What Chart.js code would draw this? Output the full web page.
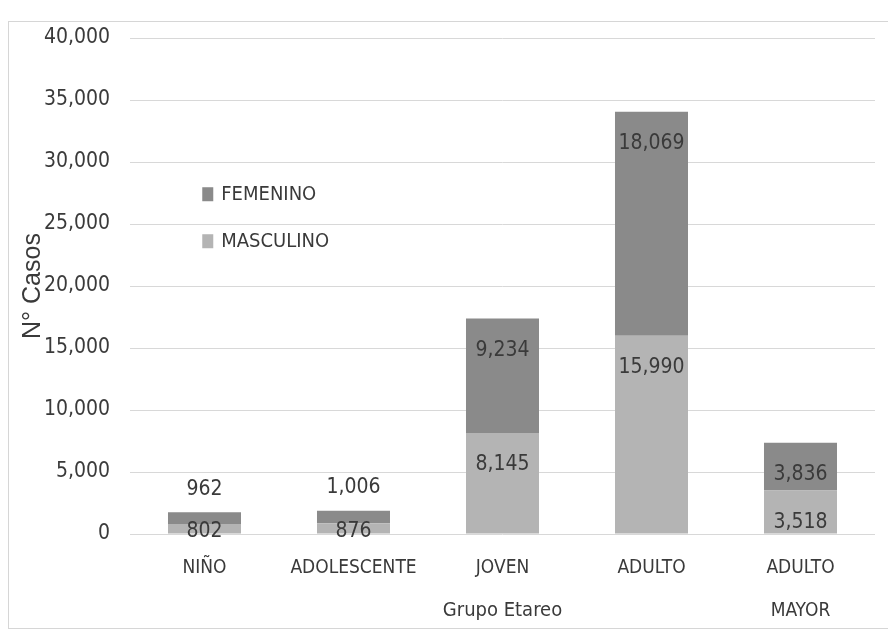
<!DOCTYPE html>
<html>
<head>
<meta charset="utf-8">
<script src="https://cdn.jsdelivr.net/npm/chart.js@4.4.1/dist/chart.umd.min.js"></script>
<style>
  html, body { margin: 0; padding: 0; background: #fff; }
  #wrap { width: 888px; height: 633px; }
</style>
</head>
<body>
<div id="wrap"><canvas id="chart"></canvas></div>
<script>
  var categories = [['NIÑO'], ['ADOLESCENTE'], ['JOVEN'], ['ADULTO'], ['ADULTO', 'MAYOR']];
  var masculino = [802, 876, 8145, 15990, 3518];
  var femenino = [962, 1006, 9234, 18069, 3836];
  var yMin = 0;
  var yMax = 40000;
  var yStep = 5000;

  var narrow = '"Liberation Sans Narrow", "DejaVu Sans Condensed", sans-serif';
  var textColor = '#3a3a3a';

  var fmt = function (v) {
    return v.toLocaleString('en-US');
  };

  // frame around the whole chart, like the pasted Excel object
  var framePlugin = {
    id: 'frame',
    beforeDraw: function (chart) {
      var ctx = chart.ctx;
      ctx.save();
      ctx.fillStyle = '#fff';
      ctx.fillRect(0, 0, chart.width, chart.height);
      ctx.strokeStyle = '#d6d6d6';
      ctx.lineWidth = 1;
      ctx.strokeRect(8.5, 21.5, chart.width, chart.height - 26);
      ctx.restore();
    }
  };

  // value labels on each stacked segment
  var labelPlugin = {
    id: 'segmentLabels',
    afterDatasetsDraw: function (chart) {
      var ctx = chart.ctx;
      ctx.save();
      ctx.font = '21px ' + narrow;
      ctx.fillStyle = textColor;
      ctx.textAlign = 'center';
      ctx.textBaseline = 'middle';
      chart.data.datasets.forEach(function (ds, i) {
        var meta = chart.getDatasetMeta(i);
        meta.data.forEach(function (bar, j) {
          var top = Math.min(bar.y, bar.base);
          var bottom = Math.max(bar.y, bar.base);
          var y;
          if (bottom - top >= 40) {
            y = top + 32;
          } else if (ds.isTop) {
            y = top - 23;
          } else {
            y = bottom - 2;
          }
          ctx.fillText(fmt(ds.data[j]), bar.x, y);
        });
      });
      ctx.restore();
    }
  };

  // legend inside the plot area, top series first
  var legendPlugin = {
    id: 'innerLegend',
    afterDraw: function (chart) {
      var ctx = chart.ctx;
      var area = chart.chartArea;
      var x = area.left + (area.right - area.left) * 0.097;
      var y = area.top + (area.bottom - area.top) * 0.315;
      ctx.save();
      ctx.font = '20px ' + narrow;
      ctx.textBaseline = 'middle';
      ctx.textAlign = 'left';
      var items = chart.data.datasets.slice().reverse();
      items.forEach(function (ds, k) {
        var cy = y + k * 47;
        ctx.fillStyle = ds.backgroundColor;
        ctx.fillRect(x, cy - 7, 11, 14);
        ctx.fillStyle = textColor;
        ctx.fillText(ds.label, x + 19, cy + 1);
      });
      ctx.restore();
    }
  };

  var config = {
    type: 'bar',
    data: {
      labels: categories,
      datasets: [{
        label: 'MASCULINO',
        data: masculino,
        backgroundColor: '#b4b4b4',
        barPercentage: 0.49,
        categoryPercentage: 1
      }, {
        label: 'FEMENINO',
        data: femenino,
        isTop: true,
        backgroundColor: '#8a8a8a',
        barPercentage: 0.49,
        categoryPercentage: 1
      }]
    },
    options: {
      responsive: true,
      maintainAspectRatio: false,
      animation: false,
      layout: {
        padding: { top: 38, right: 13, bottom: 10, left: 0 }
      },
      plugins: {
        legend: { display: false },
        tooltip: { enabled: false }
      },
      scales: {
        x: {
          stacked: true,
          grid: { display: false },
          border: { display: false },
          ticks: {
            color: textColor,
            padding: 5,
            autoSkip: false,
            maxRotation: 0,
            minRotation: 0,
            font: { family: narrow, size: 19, lineHeight: 2.25 }
          },
          title: {
            display: true,
            text: 'Grupo Etareo',
            color: textColor,
            padding: 0,
            font: { family: narrow, size: 20, lineHeight: 1.2 }
          },
          afterFit: function (scale) {
            scale.height = 89;
          }
        },
        y: {
          stacked: true,
          min: yMin,
          max: yMax,
          grid: { color: '#d8d8d8', lineWidth: 1, drawTicks: false },
          border: { display: false },
          ticks: {
            stepSize: yStep,
            color: textColor,
            padding: 20,
            font: { family: narrow, size: 21 },
            callback: function (v) { return fmt(v); }
          },
          title: {
            display: true,
            text: 'N° Casos',
            color: textColor,
            padding: { top: 18, bottom: 0 },
            font: { family: '"Liberation Sans", Arial, sans-serif', size: 25, lineHeight: 1.2 }
          },
          afterFit: function (scale) {
            scale.width = 130;
          }
        }
      }
    },
    plugins: [framePlugin, labelPlugin, legendPlugin]
  };

  window.onload = function () {
    var ctx = document.getElementById('chart').getContext('2d');
    window.myChart = new Chart(ctx, config);
  };
</script>
</body>
</html>
